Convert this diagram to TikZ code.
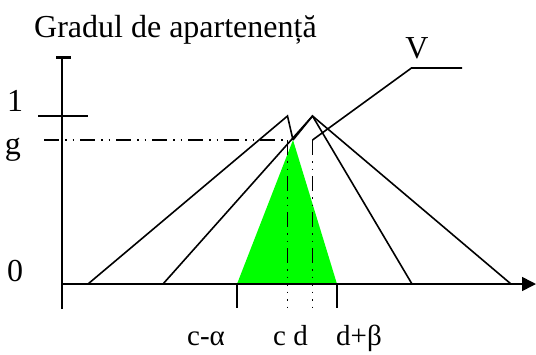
\documentclass[tikz,border=0pt]{standalone}
\usepackage{fontspec}
\setmainfont{Liberation Serif}
\usetikzlibrary{arrows.meta}

\begin{document}
\begin{tikzpicture}[x=1pt, y=-1pt,
    curve/.style={line width=1.6pt},
    dashdot/.style={line width=1.6pt, dash pattern=on 15pt off 6pt on 1.5pt off 6pt on 1.5pt off 6pt},
    dotline/.style={line width=1.6pt, dash pattern=on 1.5pt off 6pt},
    lbl/.style={font=\fontsize{32}{34}\selectfont, inner sep=0pt, anchor=base},
    small/.style={font=\fontsize{29}{31}\selectfont, inner sep=0pt, anchor=base west}]
\useasboundingbox (0,0) rectangle (536,354);

% puncte de baza
\coordinate (o) at (62,284);
\coordinate (xend) at (536,284);
\coordinate (ytop) at (62,57);
\coordinate (ybot) at (62,309);
\coordinate (pc) at (287.5,116);   % varf pentru c
\coordinate (pd) at (312.5,116);   % varf pentru d
\coordinate (gtop) at (293,140);   % varful zonei verzi
\coordinate (ca) at (237,284);     % c-alpha
\coordinate (db) at (337,284);     % d+beta
\coordinate (l1) at (88,284);
\coordinate (l2) at (163,284);
\coordinate (r1) at (412,284);
\coordinate (r2) at (511,284);
\coordinate (g0) at (44,140);
\coordinate (gc) at (287.5,140);
\coordinate (gd) at (312.5,140);
\coordinate (c0) at (287.5,284);
\coordinate (d0) at (312.5,284);

% zona verde
\fill[green] (ca) -- (gtop) -- (db) -- cycle;

% axe
\draw[curve] (ybot) -- (ytop);
\draw[line width=3pt] (56,57.5) -- (71,57.5);
\draw[curve, -{Triangle[length=14pt, width=14pt]}] (o) -- (xend);
\draw[curve] (38,116) -- (88,116);
\draw[curve] (ca) -- ++(0,24);
\draw[curve] (db) -- ++(0,24);

% triunghiuri
\draw[curve] (l1) -- (pc) -- (gtop);
\draw[curve] (l2) -- (pd) -- (r1);
\draw[curve] (pd) -- (r2);
\draw[curve] (pd) -- (gtop);

% nivelul g si proiectiile
\draw[dashdot] (g0) -- (gc);
\draw[dashdot] (gc) -- (c0);
\draw[dashdot] (gd) -- (d0);
\draw[dotline] (c0) -- ++(0,24);
\draw[dotline] (d0) -- ++(0,24);

% eticheta V
\coordinate (vk) at (411.5,68);
\coordinate (ve) at (462,68);
\draw[curve] (gd) -- (vk) -- (ve);
\node[lbl] (vlbl) at (417,58) {V};

% texte
\node[lbl, anchor=base west] (title) at (34,37) {Gradul de apartenență};
\node[lbl] (one) at (15,111) {1};
\node[lbl] (gl) at (13,154) {g};
\node[lbl] (zero) at (15,281) {0};
\node[small] (calpha) at (187,345) {c-α};
\node[small] (cd) at (273,345) {c d};
\node[small] (dbeta) at (336,345) {d+β};
\end{tikzpicture}
\end{document}
